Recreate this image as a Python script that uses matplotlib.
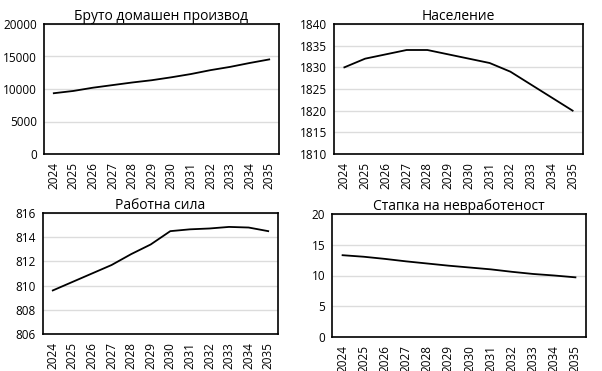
import matplotlib
matplotlib.use("Agg")
from matplotlib import pyplot as plt

plt.rcParams['font.family'] = ['Open Sans', 'DejaVu Sans']

years = [str(y) for y in range(2024, 2036)]

gdp = [9350, 9700, 10200, 10600, 11000, 11350, 11800, 12300, 12900, 13400, 14000, 14550]
population = [1830, 1832, 1833, 1834, 1834, 1833, 1832, 1831, 1829, 1826, 1823, 1820]
labour_force = [809.6, 810.3, 811.0, 811.7, 812.6, 813.4, 814.5, 814.65, 814.72, 814.85, 814.8, 814.5]
unemployment = [13.3, 13.05, 12.7, 12.3, 11.95, 11.6, 11.3, 11.0, 10.6, 10.25, 10.0, 9.7]

W, H = 602, 371


def make_axes(fig, left, top, right, bottom):
    return fig.add_axes([left / W, 1 - bottom / H, (right - left) / W, (bottom - top) / H])


def draw_panel(ax, values, title, ylim, yticks):
    ax.plot(years, values, color='black', linewidth=1.3)
    ax.set_xlim(-0.5, len(years) - 0.5)
    ax.set_ylim(*ylim)
    ax.set_yticks(yticks)
    ax.set_title(title, fontsize=10, pad=3)
    ax.grid(axis='y', color='#dcdcdc', linewidth=1)
    ax.set_axisbelow(True)
    ax.tick_params(axis='both', length=0, labelsize=8.5)
    ax.tick_params(axis='x', rotation=90, pad=6)
    ax.tick_params(axis='y', pad=5)
    for spine in ax.spines.values():
        spine.set_color('black')
        spine.set_linewidth(1.2)


fig = plt.figure(figsize=(W / 100, H / 100), dpi=100)

ax1 = make_axes(fig, 44, 24, 279, 154)
draw_panel(ax1, gdp, 'Бруто домашен производ', (0, 20000), range(0, 20001, 5000))

ax2 = make_axes(fig, 334, 24, 583, 154)
draw_panel(ax2, population, 'Население', (1810, 1840), range(1810, 1841, 5))

ax3 = make_axes(fig, 43, 213, 278, 334)
draw_panel(ax3, labour_force, 'Работна сила', (806, 816), range(806, 817, 2))

ax4 = make_axes(fig, 332, 214, 586, 337)
draw_panel(ax4, unemployment, 'Стапка на невработеност', (0, 20), range(0, 21, 5))

fig.savefig('out.png', dpi=100)
